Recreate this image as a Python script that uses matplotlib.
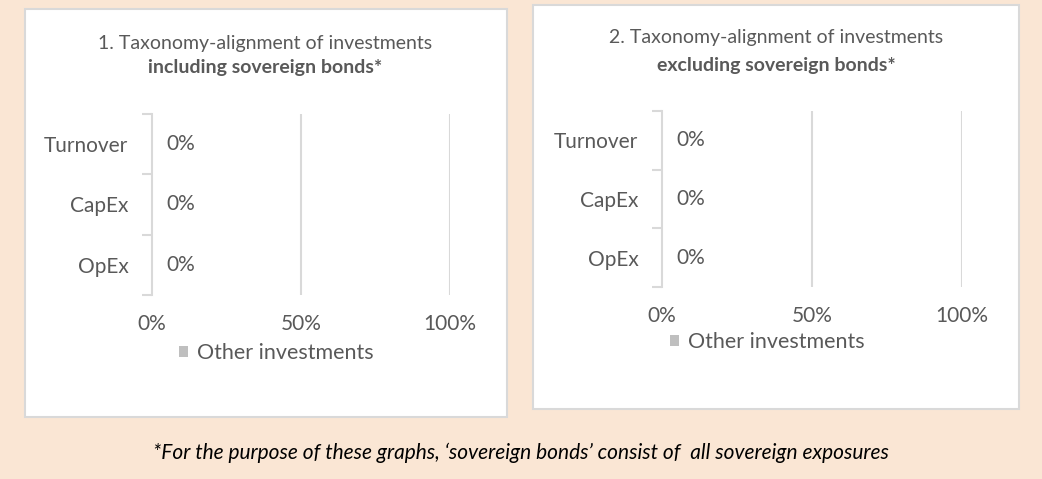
import matplotlib.pyplot as plt
from matplotlib.patches import Rectangle
import numpy as np

# data
categories = ["Turnover", "CapEx", "OpEx"]
other_incl = [0, 0, 0]
other_excl = [0, 0, 0]
x_ticks = [0, 50, 100]
series_name = "Other investments"
titles = [("1. Taxonomy-alignment of investments", "including sovereign bonds*"),
          ("2. Taxonomy-alignment of investments", "excluding sovereign bonds*")]
footnote = "*For the purpose of these graphs, \u2018sovereign bonds\u2019 consist of  all sovereign exposures"

W, H = 1042, 479
bg = "#FAE6D4"
txt = "#595959"
grid = "#D9D9D9"
bar_col = "#BFBFBF"
plt.rcParams['font.family'] = ['Lato', 'DejaVu Sans']

fig = plt.figure(figsize=(W / 100, H / 100), dpi=100)
fig.patch.set_facecolor(bg)


def px(x, y):
    return x / W, 1 - y / H


# panel geometry in pixels: box, plot area, title y, legend y
panels = [
    dict(box=(25, 9, 507, 417), plot=(152, 114, 450, 295), tcx=265, t1=43, t2=68, leg=(276, 353)),
    dict(box=(533, 5, 1019, 409), plot=(662, 111, 962, 287), tcx=776, t1=38, t2=65, leg=(767, 342)),
]

for p, vals, (t_a, t_b) in zip(panels, [other_incl, other_excl], titles):
    bx0, by0, bx1, by1 = p["box"]
    fig.patches.append(Rectangle(px(bx0, by1), (bx1 - bx0) / W, (by1 - by0) / H,
                                 transform=fig.transFigure, facecolor="white",
                                 edgecolor=grid, linewidth=1.5, zorder=-1))
    x0, y0, x1, y1 = p["plot"]
    ax = fig.add_axes([x0 / W, 1 - y1 / H, (x1 - x0) / W, (y1 - y0) / H])
    ax.set_facecolor("none")
    y = np.arange(len(categories))
    rects = ax.barh(y, vals, height=0.6, color=bar_col, label=series_name)
    ax.bar_label(rects, labels=[f"{v}%" for v in vals], padding=10, fontsize=15, color=txt)
    ax.set_xlim(0, 100)
    ax.set_ylim(len(categories) - 0.5, -0.5)
    ax.set_yticks(y, categories)
    ax.set_yticks(np.arange(len(categories) + 1) - 0.5, minor=True)
    ax.tick_params(axis="y", which="major", length=0, pad=17, labelsize=15, labelcolor=txt)
    ax.tick_params(axis="y", which="minor", length=7, width=1.5, color=grid)
    ax.set_xticks(x_ticks, [f"{v}%" for v in x_ticks])
    ax.tick_params(axis="x", length=0, pad=14, labelsize=15, labelcolor=txt)
    for v in x_ticks[1:]:
        ax.axvline(v, color=grid, linewidth=1.5)
    for s in ["top", "right", "bottom"]:
        ax.spines[s].set_visible(False)
    ax.spines["left"].set_color(grid)
    ax.spines["left"].set_linewidth(1.5)

    fig.text(*px(p["tcx"], p["t1"]), t_a, ha="center", va="center", fontsize=14, color=txt)
    fig.text(*px(p["tcx"], p["t2"]), t_b, ha="center", va="center", fontsize=14,
             color=txt, fontweight="bold")
    lx, ly = p["leg"]
    fig.legend(handles=[rects], labels=[series_name], loc="center",
               bbox_to_anchor=px(lx, ly), frameon=False, fontsize=15.5, labelcolor=txt,
               handlelength=0.45, handleheight=0.45, handletextpad=0.4)

fig.text(*px(521, 453), footnote, ha="center", va="center", fontsize=15,
         style="italic", color="black")

fig.savefig("out.png", dpi=100, facecolor=bg)
